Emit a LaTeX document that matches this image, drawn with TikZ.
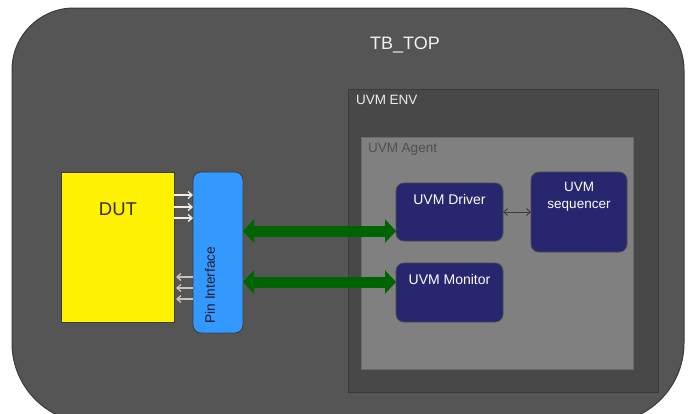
\documentclass[tikz,border=0pt]{standalone}
\usepackage{fontspec}
\setmainfont{Liberation Sans}
\usetikzlibrary{arrows.meta}
\definecolor{outerc}{HTML}{555555}
\definecolor{outerb}{HTML}{3A3A3A}
\definecolor{envc}{HTML}{484848}
\definecolor{envb}{HTML}{3A3A3A}
\definecolor{agentc}{HTML}{808080}
\definecolor{agentb}{HTML}{6A6A6A}
\definecolor{navyc}{HTML}{27276F}
\definecolor{navyb}{HTML}{4A4A4A}
\definecolor{pinc}{HTML}{3399FF}
\definecolor{greenc}{HTML}{006400}
\definecolor{sigout}{HTML}{F2ECE4}
\definecolor{sigin}{HTML}{C9C3BC}
\begin{document}
\begin{tikzpicture}[x=1pt,y=-1pt,
  every node/.style={inner sep=0pt,outer sep=0pt},
  blk/.style={minimum width=#1},
  navybox/.style={fill=navyc,draw=navyb,line width=0.8pt,rounded corners=8pt},
  navytxt/.style={text=white,font=\fontsize{14}{17}\selectfont,align=center},
  bigarrow/.style={draw=greenc,line width=11pt,{Triangle[length=11pt,width=23pt]}-{Triangle[length=11pt,width=23pt]},shorten <=0pt,shorten >=0pt},
  sigo/.style={draw=sigout,line width=1.3pt,-{Straight Barb[length=4pt,width=7pt]}},
  sigi/.style={draw=sigin,line width=1.3pt,-{Straight Barb[length=4pt,width=7pt]}},
  smallarrow/.style={draw=outerb,line width=0.9pt,{Straight Barb[length=4pt,width=7pt]}-{Straight Barb[length=4pt,width=7pt]}}
]
\useasboundingbox (0,0) rectangle (690,413);
\fill[white] (0,0) rectangle (690,413);
\begin{scope}
\clip (0,0) rectangle (690,413);
\path[fill=outerc,draw=outerb,line width=1pt]
  (12,70) arc[start angle=180,end angle=270,radius=62]
  -- (622,8) arc[start angle=270,end angle=360,radius=62]
  -- (684,343) arc[start angle=0,end angle=90,radius=80]
  -- (92,423) arc[start angle=90,end angle=180,radius=80]
  -- cycle;
\end{scope}
\node[text={rgb,255:red,240;green,240;blue,240},font=\fontsize{18}{20}\selectfont] (tbtop) at (405,45) {TB\_TOP};

% UVM ENV
\node[fill=envc,draw=envb,line width=0.8pt,minimum width=310pt,minimum height=303pt] (env) at (503,240.5) {};
\node[anchor=north west,text={rgb,255:red,235;green,235;blue,235},font=\fontsize{13.5}{16}\selectfont] (envt) at (356,95) {UVM ENV};

% UVM Agent
\node[fill=agentc,draw=agentb,line width=0.8pt,minimum width=272pt,minimum height=232pt] (agent) at (497,253) {};
\node[anchor=north west,text={rgb,255:red,80;green,80;blue,80},font=\fontsize{13.5}{16}\selectfont] (agentt) at (368,143) {UVM Agent};

% DUT
\node[fill=yellow,draw=outerb,line width=0.8pt,minimum width=113pt,minimum height=150pt] (dut) at (117.5,247) {};
\node[text={rgb,255:red,50;green,50;blue,50},font=\fontsize{18.5}{20}\selectfont] (dutt) at (118,209) {DUT};

% Pin interface
\node[fill=pinc,draw=outerb,line width=0.8pt,rounded corners=8pt,minimum width=50pt,minimum height=161pt] (pin) at (218,252.5) {};
\node[rotate=90,text={rgb,255:red,30;green,30;blue,40},font=\fontsize{13.7}{16}\selectfont] (pint) at (210,285) {Pin Interface};

% Driver, Monitor, Sequencer
\node[navybox,minimum width=107pt,minimum height=58pt] (drv) at (449.5,212) {};
\node[navytxt] (drvt) at (449.5,199) {UVM Driver};
\node[navybox,minimum width=107pt,minimum height=59pt] (mon) at (449.5,292.5) {};
\node[navytxt] (mont) at (449.5,279) {UVM Monitor};
\node[navybox,minimum width=96pt,minimum height=80pt] (seq) at (579,212) {};
\node[navytxt,font=\fontsize{13.5}{17}\selectfont] (seqt) at (579,197) {UVM\\sequencer};

% signal arrows DUT <-> pin
\foreach \yy in {195,207,218} \draw[sigo] (dut.east |- 0,\yy) -- (pin.west |- 0,\yy);
\foreach \yy in {277,288,299} \draw[sigi] (pin.west |- 0,\yy) -- ([xshift=2pt]dut.east |- 0,\yy);

% green bidirectional arrows
\draw[bigarrow] (pin.east |- 0,231) -- (drv.west |- 0,231);
\draw[bigarrow] (pin.east |- 0,282) -- (mon.west |- 0,282);

% driver <-> sequencer
\draw[smallarrow] (drv.east) -- (seq.west);
\end{tikzpicture}
\end{document}
